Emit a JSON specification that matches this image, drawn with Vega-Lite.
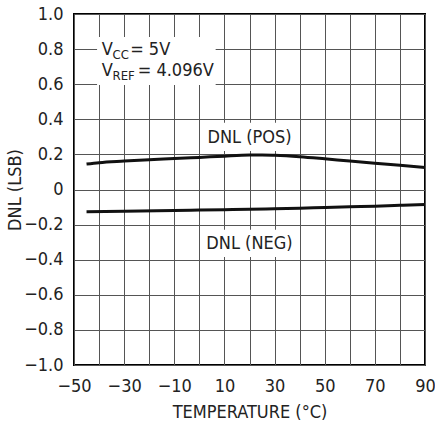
{
  "$schema": "https://vega.github.io/schema/vega-lite/v6.json",
  "autosize": {"type": "none"},
  "width": 351,
  "height": 351,
  "padding": {"left": 74, "top": 14, "right": 10, "bottom": 58},
  "background": "white",
  "config": {
    "font": "DejaVu Sans Condensed, Liberation Sans Narrow, sans-serif",
    "view": {"stroke": "black", "strokeWidth": 2},
    "axis": {
      "grid": true,
      "gridColor": "#555555",
      "gridWidth": 1,
      "gridOpacity": 1,
      "domain": false,
      "ticks": true,
      "tickSize": 0,
      "labelFont": "DejaVu Sans Condensed, Liberation Sans Narrow, sans-serif",
      "titleFont": "DejaVu Sans Condensed, Liberation Sans Narrow, sans-serif",
      "labelFontSize": 18,
      "titleFontSize": 18,
      "labelColor": "#222222",
      "titleColor": "#222222",
      "titleFontWeight": "normal",
      "labelOverlap": false,
      "labelFlush": false
    }
  },
  "datasets": {
    "curves": [
      {"temp": -45, "dnl": 0.145, "series": "POS"},
      {"temp": -40, "dnl": 0.153, "series": "POS"},
      {"temp": -30, "dnl": 0.162, "series": "POS"},
      {"temp": -20, "dnl": 0.170, "series": "POS"},
      {"temp": -10, "dnl": 0.176, "series": "POS"},
      {"temp": 0, "dnl": 0.183, "series": "POS"},
      {"temp": 10, "dnl": 0.190, "series": "POS"},
      {"temp": 20, "dnl": 0.196, "series": "POS"},
      {"temp": 25, "dnl": 0.197, "series": "POS"},
      {"temp": 30, "dnl": 0.195, "series": "POS"},
      {"temp": 40, "dnl": 0.187, "series": "POS"},
      {"temp": 50, "dnl": 0.175, "series": "POS"},
      {"temp": 60, "dnl": 0.162, "series": "POS"},
      {"temp": 70, "dnl": 0.150, "series": "POS"},
      {"temp": 80, "dnl": 0.138, "series": "POS"},
      {"temp": 90, "dnl": 0.126, "series": "POS"},
      {"temp": -45, "dnl": -0.127, "series": "NEG"},
      {"temp": -30, "dnl": -0.124, "series": "NEG"},
      {"temp": -10, "dnl": -0.119, "series": "NEG"},
      {"temp": 0, "dnl": -0.117, "series": "NEG"},
      {"temp": 10, "dnl": -0.115, "series": "NEG"},
      {"temp": 20, "dnl": -0.113, "series": "NEG"},
      {"temp": 30, "dnl": -0.110, "series": "NEG"},
      {"temp": 40, "dnl": -0.107, "series": "NEG"},
      {"temp": 50, "dnl": -0.102, "series": "NEG"},
      {"temp": 60, "dnl": -0.098, "series": "NEG"},
      {"temp": 70, "dnl": -0.095, "series": "NEG"},
      {"temp": 80, "dnl": -0.090, "series": "NEG"},
      {"temp": 90, "dnl": -0.085, "series": "NEG"}
    ],
    "boxes": [
      {"temp": -40.8, "temp2": 6.5, "dnl": 0.595, "dnl2": 0.869},
      {"temp": 1, "temp2": 38, "dnl": 0.22, "dnl2": 0.38},
      {"temp": 1, "temp2": 38, "dnl": -0.23, "dnl2": -0.385}
    ],
    "curveLabels": [
      {"temp": 20, "dnl": 0.293, "text": "DNL (POS)"},
      {"temp": 20, "dnl": -0.312, "text": "DNL (NEG)"}
    ],
    "mainText": [
      {"temp": -38.9, "dnl": 0.795, "text": "V"},
      {"temp": -27.6, "dnl": 0.795, "text": "= 5V"},
      {"temp": -38.9, "dnl": 0.675, "text": "V"},
      {"temp": -24.6, "dnl": 0.675, "text": "= 4.096V"}
    ],
    "subText": [
      {"temp": -34.6, "dnl": 0.795, "text": "CC"},
      {"temp": -34.6, "dnl": 0.675, "text": "REF"}
    ]
  },
  "encoding": {
    "x": {"field": "temp", "type": "quantitative",
      "scale": {"domain": [-50, 90], "nice": false, "zero": false},
      "axis": {
        "title": "TEMPERATURE (°C)",
        "tickCount": 15,
        "labelExpr": "(datum.value + 50) % 20 == 0 ? datum.label : ''",
        "labelPadding": 12,
        "labelOverlap": false,
        "titleY": 47,
        "titleBaseline": "middle"
      }
    },
    "y": {"field": "dnl", "type": "quantitative",
      "scale": {"domain": [-1, 1], "nice": false, "zero": false},
      "axis": {
        "title": "DNL (LSB)",
        "tickCount": 10,
        "labelExpr": "datum.value == 0 ? '0' : format(datum.value, '.1f')",
        "labelPadding": 11,
        "labelOverlap": false,
        "titleX": -59,
        "titleY": 175.5,
        "titleAngle": -90,
        "titleBaseline": "middle",
        "titleAlign": "center"
      }
    }
  },
  "layer": [
    {
      "data": {"name": "boxes"},
      "mark": {"type": "rect", "fill": "white"},
      "encoding": {
        "x2": {"field": "temp2"},
        "y2": {"field": "dnl2"}
      }
    },
    {
      "data": {"name": "curves"},
      "mark": {"type": "line", "strokeWidth": 3, "interpolate": "monotone", "color": "#111111"},
      "encoding": {
        "detail": {"field": "series"}
      }
    },
    {
      "data": {"name": "curveLabels"},
      "mark": {"type": "text", "fontSize": 18, "align": "center", "baseline": "middle", "color": "#222222"},
      "encoding": {
        "text": {"field": "text"}
      }
    },
    {
      "data": {"name": "mainText"},
      "mark": {"type": "text", "fontSize": 18, "align": "left", "baseline": "middle", "color": "#222222"},
      "encoding": {
        "text": {"field": "text"}
      }
    },
    {
      "data": {"name": "subText"},
      "mark": {"type": "text", "fontSize": 13, "align": "left", "baseline": "middle", "dy": 5, "color": "#222222"},
      "encoding": {
        "text": {"field": "text"}
      }
    }
  ]
}
